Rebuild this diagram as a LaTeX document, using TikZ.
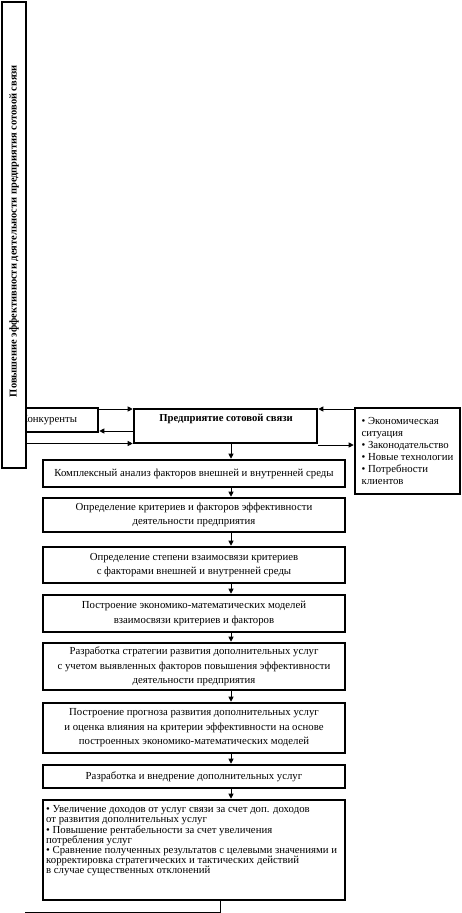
\documentclass[tikz,border=0pt]{standalone}
\usepackage{fontspec}
\setmainfont{Liberation Serif}
\usetikzlibrary{arrows.meta,calc}
\begin{document}
\begin{tikzpicture}[x=1bp,y=-1bp,
  box/.style={draw,line width=2.6bp,inner sep=2bp,align=center,fill=white,
    font=\fontsize{10.8}{14.5}\selectfont},
  txt/.style={inner sep=0bp,font=\fontsize{10.8}{14.5}\selectfont},
  conn/.style={line width=0.8bp},
  arr/.style={conn,-{Triangle[length=5bp,width=5bp]}}]
\useasboundingbox (0,0) rectangle (462,913);
% row coordinates
\coordinate (rA) at (0,409);
\coordinate (rB) at (0,431);
\coordinate (rC) at (0,443.5);
\coordinate (rD) at (0,445);
\coordinate (ax) at (231,0);
\coordinate (bx) at (220,0);
\coordinate (endpt) at (25,912);
% competitors (partly hidden)
\node[box,minimum width=96bp,minimum height=24bp] (comp) at (50,420) {};
\node[txt] (compt) at (49,420) {Конкуренты};
% vertical title box
\node[box,minimum width=24bp,minimum height=466bp] (vert) at (14,235) {};
\node[txt,rotate=90,font=\fontsize{10.5}{12}\selectfont\bfseries] (vertt) at (14,231)
  {Повышение эффективности деятельности предприятия сотовой связи};
% enterprise
\node[box,minimum width=183bp,minimum height=34bp] (ent) at (225.5,426) {};
\node[txt,font=\fontsize{10.7}{12}\selectfont\bfseries] (entt) at (226,419) {Предприятие сотовой связи};
% environment
\node[box,minimum width=105bp,minimum height=86bp,align=left,
  font=\fontsize{10.8}{12.2}\selectfont] (env) at (407.5,451)
  {• Экономическая\\ситуация\\• Законодательство\\• Новые технологии\\• Потребности\\клиентов};
% chain of boxes
\node[box,minimum width=302bp,minimum height=27bp] (b1) at (194,473.5)
  {Комплексный анализ факторов внешней и внутренней среды};
\node[box,minimum width=302bp,minimum height=34bp] (b2) at (194,515)
  {Определение критериев и факторов эффективности\\деятельности предприятия};
\node[box,minimum width=302bp,minimum height=36bp] (b3) at (194,565)
  {Определение степени взаимосвязи критериев\\с факторами внешней и внутренней среды};
\node[box,minimum width=302bp,minimum height=37bp] (b4) at (194,613.5)
  {Построение экономико-математических моделей\\взаимосвязи критериев и факторов};
\node[box,minimum width=302bp,minimum height=47bp] (b5) at (194,666.5)
  {Разработка стратегии развития дополнительных услуг\\с учетом выявленных факторов повышения эффективности\\деятельности предприятия};
\node[box,minimum width=302bp,minimum height=50bp] (b6) at (194,728)
  {Построение прогноза развития дополнительных услуг\\и оценка влияния на критерии эффективности на основе\\построенных экономико-математических моделей};
\node[box,minimum width=302bp,minimum height=23bp] (b7) at (194,776.5)
  {Разработка и внедрение дополнительных услуг};
\node[box,minimum width=302bp,minimum height=100bp] (b8) at (194,850) {};
\node[txt,anchor=north west,align=left,font=\fontsize{10.8}{10.2}\selectfont] (b8t) at (46,805.5)
  {• Увеличение доходов от услуг связи за счет доп. доходов\\
   от развития дополнительных услуг\\
   • Повышение рентабельности за счет увеличения\\
   потребления услуг\\
   • Сравнение полученных результатов с целевыми значениями и\\
   корректировка стратегических и тактических действий\\
   в случае существенных отклонений};
% connectors
\draw[arr] (comp.east |- rA) -- (ent.west |- rA);
\draw[arr] (ent.west |- rB) -- (comp.east |- rB);
\draw[arr] (vert.east |- rC) -- (ent.west |- rC);
\draw[arr] (env.west |- rA) -- (ent.east |- rA);
\draw[arr] (ent.east |- rD) -- (env.west |- rD);
\draw[arr] (ent.south -| ax) -- (b1.north -| ax);
\draw[arr] (b1.south -| ax) -- (b2.north -| ax);
\draw[arr] (b2.south -| ax) -- (b3.north -| ax);
\draw[arr] (b3.south -| ax) -- (b4.north -| ax);
\draw[arr] (b4.south -| ax) -- (b5.north -| ax);
\draw[arr] (b5.south -| ax) -- (b6.north -| ax);
\draw[arr] (b6.south -| ax) -- (b7.north -| ax);
\draw[arr] (b7.south -| ax) -- (b8.north -| ax);
\draw[conn] (b8.south -| bx) |- (endpt);
\end{tikzpicture}
\end{document}
